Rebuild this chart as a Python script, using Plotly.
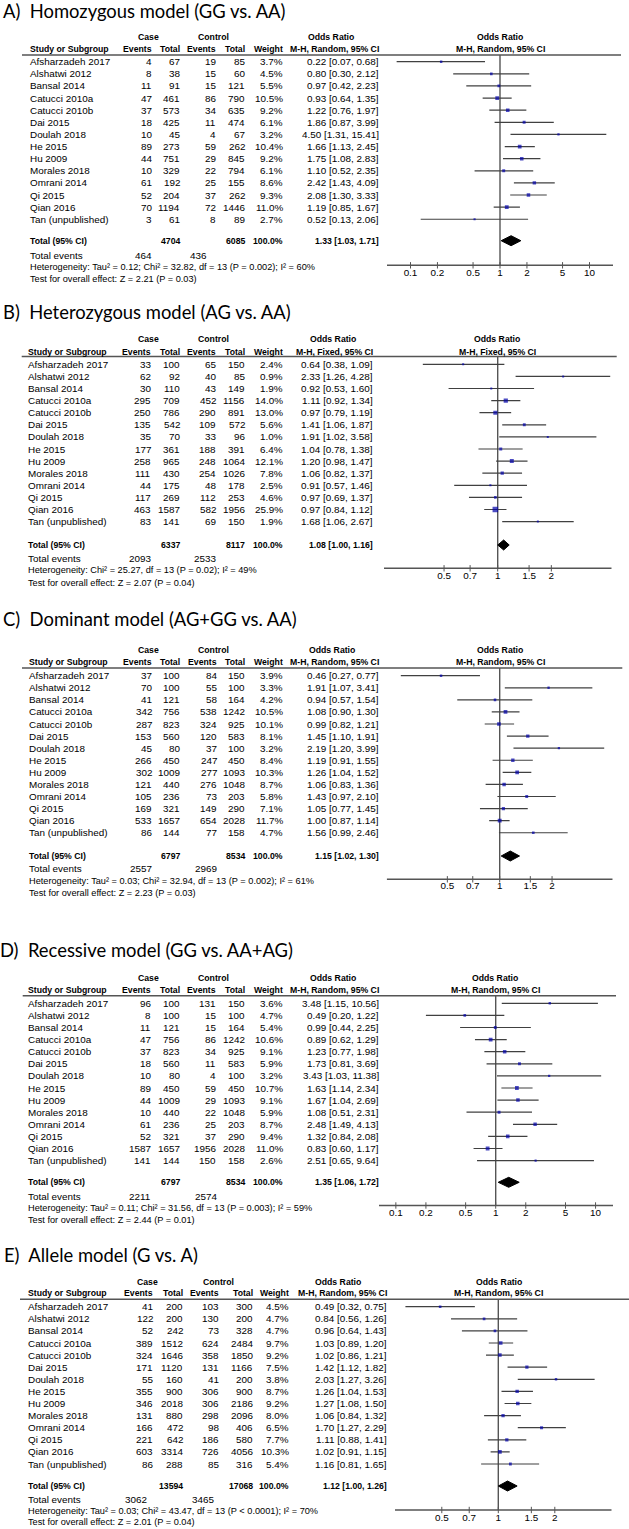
import plotly.graph_objects as go

W, H = 629, 1529

studies = ["Afsharzadeh 2017", "Alshatwi 2012", "Bansal 2014", "Catucci 2010a", "Catucci 2010b",
           "Dai 2015", "Doulah 2018", "He 2015", "Hu 2009", "Morales 2018", "Omrani 2014",
           "Qi 2015", "Qian 2016", "Tan (unpublished)"]

# ---- Panel A: Homozygous model (GG vs. AA)
a_case_ev = [4, 8, 11, 47, 37, 18, 10, 89, 44, 10, 61, 52, 70, 3]
a_case_tot = [67, 38, 91, 461, 573, 425, 45, 273, 751, 329, 192, 204, 1194, 61]
a_ctrl_ev = [19, 15, 15, 86, 34, 11, 4, 59, 29, 22, 25, 37, 72, 8]
a_ctrl_tot = [85, 60, 121, 790, 635, 474, 67, 262, 845, 794, 155, 262, 1446, 89]
a_weight = [3.7, 4.5, 5.5, 10.5, 9.2, 6.1, 3.2, 10.4, 9.2, 6.1, 8.6, 9.3, 11.0, 2.7]
a_or = [0.22, 0.80, 0.97, 0.93, 1.22, 1.86, 4.50, 1.66, 1.75, 1.10, 2.42, 2.08, 1.19, 0.52]
a_lo = [0.07, 0.30, 0.42, 0.64, 0.76, 0.87, 1.31, 1.13, 1.08, 0.52, 1.43, 1.30, 0.85, 0.13]
a_hi = [0.68, 2.12, 2.23, 1.35, 1.97, 3.99, 15.41, 2.45, 2.83, 2.35, 4.09, 3.33, 1.67, 2.06]
a_totals = [4704, 6085]
a_events = [464, 436]
a_overall = [1.33, 1.03, 1.71]

# ---- Panel B: Heterozygous model (AG vs. AA)
b_case_ev = [33, 62, 30, 295, 250, 135, 35, 177, 258, 111, 44, 117, 463, 83]
b_case_tot = [100, 92, 110, 709, 786, 542, 70, 361, 965, 430, 175, 269, 1587, 141]
b_ctrl_ev = [65, 40, 43, 452, 290, 109, 33, 188, 248, 254, 48, 112, 582, 69]
b_ctrl_tot = [150, 85, 149, 1156, 891, 572, 96, 391, 1064, 1026, 178, 253, 1956, 150]
b_weight = [2.4, 0.9, 1.9, 14.0, 13.0, 5.6, 1.0, 6.4, 12.1, 7.8, 2.5, 4.6, 25.9, 1.9]
b_or = [0.64, 2.33, 0.92, 1.11, 0.97, 1.41, 1.91, 1.04, 1.20, 1.06, 0.91, 0.97, 0.97, 1.68]
b_lo = [0.38, 1.26, 0.53, 0.92, 0.79, 1.06, 1.02, 0.78, 0.98, 0.82, 0.57, 0.69, 0.84, 1.06]
b_hi = [1.09, 4.28, 1.60, 1.34, 1.19, 1.87, 3.58, 1.38, 1.47, 1.37, 1.46, 1.37, 1.12, 2.67]
b_totals = [6337, 8117]
b_events = [2093, 2533]
b_overall = [1.08, 1.00, 1.16]

# ---- Panel C: Dominant model (AG+GG vs. AA)
c_case_ev = [37, 70, 41, 342, 287, 153, 45, 266, 302, 121, 105, 169, 533, 86]
c_case_tot = [100, 100, 121, 756, 823, 560, 80, 450, 1009, 440, 236, 321, 1657, 144]
c_ctrl_ev = [84, 55, 58, 538, 324, 120, 37, 247, 277, 276, 73, 149, 654, 77]
c_ctrl_tot = [150, 100, 164, 1242, 925, 583, 100, 450, 1093, 1048, 203, 290, 2028, 158]
c_weight = [3.9, 3.3, 4.2, 10.5, 10.1, 8.1, 3.2, 8.4, 10.3, 8.7, 5.8, 7.1, 11.7, 4.7]
c_or = [0.46, 1.91, 0.94, 1.08, 0.99, 1.45, 2.19, 1.19, 1.26, 1.06, 1.43, 1.05, 1.00, 1.56]
c_lo = [0.27, 1.07, 0.57, 0.90, 0.82, 1.10, 1.20, 0.91, 1.04, 0.83, 0.97, 0.77, 0.87, 0.99]
c_hi = [0.77, 3.41, 1.54, 1.30, 1.21, 1.91, 3.99, 1.55, 1.52, 1.36, 2.10, 1.45, 1.14, 2.46]
c_totals = [6797, 8534]
c_events = [2557, 2969]
c_overall = [1.15, 1.02, 1.30]

# ---- Panel D: Recessive model (GG vs. AA+AG)
d_case_ev = [96, 8, 11, 47, 37, 18, 10, 89, 44, 10, 61, 52, 1587, 141]
d_case_tot = [100, 100, 121, 756, 823, 560, 80, 450, 1009, 440, 236, 321, 1657, 144]
d_ctrl_ev = [131, 15, 15, 86, 34, 11, 4, 59, 29, 22, 25, 37, 1956, 150]
d_ctrl_tot = [150, 100, 164, 1242, 925, 583, 100, 450, 1093, 1048, 203, 290, 2028, 158]
d_weight = [3.6, 4.7, 5.4, 10.6, 9.1, 5.9, 3.2, 10.7, 9.1, 5.9, 8.7, 9.4, 11.0, 2.6]
d_or = [3.48, 0.49, 0.99, 0.89, 1.23, 1.73, 3.43, 1.63, 1.67, 1.08, 2.48, 1.32, 0.83, 2.51]
d_lo = [1.15, 0.20, 0.44, 0.62, 0.77, 0.81, 1.03, 1.14, 1.04, 0.51, 1.49, 0.84, 0.60, 0.65]
d_hi = [10.56, 1.22, 2.25, 1.29, 1.98, 3.69, 11.38, 2.34, 2.69, 2.31, 4.13, 2.08, 1.17, 9.64]
d_totals = [6797, 8534]
d_events = [2211, 2574]
d_overall = [1.35, 1.06, 1.72]

# ---- Panel E: Allele model (G vs. A)
e_case_ev = [41, 122, 52, 389, 324, 171, 55, 355, 346, 131, 166, 221, 603, 86]
e_case_tot = [200, 200, 242, 1512, 1646, 1120, 160, 900, 2018, 880, 472, 642, 3314, 288]
e_ctrl_ev = [103, 130, 73, 624, 358, 131, 41, 306, 306, 298, 98, 186, 726, 85]
e_ctrl_tot = [300, 200, 328, 2484, 1850, 1166, 200, 900, 2186, 2096, 406, 580, 4056, 316]
e_weight = [4.5, 4.7, 4.7, 9.7, 9.2, 7.5, 3.8, 8.7, 9.2, 8.0, 6.5, 7.7, 10.3, 5.4]
e_or = [0.49, 0.84, 0.96, 1.03, 1.02, 1.42, 2.03, 1.26, 1.27, 1.06, 1.70, 1.11, 1.02, 1.16]
e_lo = [0.32, 0.56, 0.64, 0.89, 0.86, 1.12, 1.27, 1.04, 1.08, 0.84, 1.27, 0.88, 0.91, 0.81]
e_hi = [0.75, 1.26, 1.43, 1.20, 1.21, 1.82, 3.26, 1.53, 1.50, 1.32, 2.29, 1.41, 1.15, 1.65]
e_totals = [13594, 17068]
e_events = [3062, 3465]
e_overall = [1.12, 1.00, 1.26]

ticks_wide = [0.1, 0.2, 0.5, 1, 2, 5, 10]
ticks_narrow = [0.5, 0.7, 1, 1.5, 2]

titles = ["A)\u00a0 Homozygous model (GG vs. AA)",
          "B)\u00a0 Heterozygous model (AG vs. AA)",
          "C)\u00a0 Dominant model (AG+GG vs. AA)",
          "D)\u00a0 Recessive model (GG vs. AA+AG)",
          "E)\u00a0 Allele model (G vs. A)"]
methods = ["M-H, Random, 95% CI", "M-H, Fixed, 95% CI", "M-H, Random, 95% CI",
           "M-H, Random, 95% CI", "M-H, Random, 95% CI"]
het_texts = [
    "Heterogeneity: Tau² = 0.12; Chi² = 32.82, df = 13 (P = 0.002); I² = 60%",
    "Heterogeneity: Chi² = 25.27, df = 13 (P = 0.02); I² = 49%",
    "Heterogeneity: Tau² = 0.03; Chi² = 32.94, df = 13 (P = 0.002); I² = 61%",
    "Heterogeneity: Tau² = 0.11; Chi² = 31.56, df = 13 (P = 0.003); I² = 59%",
    "Heterogeneity: Tau² = 0.03; Chi² = 43.47, df = 13 (P < 0.0001); I² = 70%",
]
test_texts = [
    "Test for overall effect: Z = 2.21 (P = 0.03)",
    "Test for overall effect: Z = 2.07 (P = 0.04)",
    "Test for overall effect: Z = 2.23 (P = 0.03)",
    "Test for overall effect: Z = 2.44 (P = 0.01)",
    "Test for overall effect: Z = 2.01 (P = 0.04)",
]

data = [
    (a_case_ev, a_case_tot, a_ctrl_ev, a_ctrl_tot, a_weight, a_or, a_lo, a_hi, a_totals, a_events, a_overall, ticks_wide),
    (b_case_ev, b_case_tot, b_ctrl_ev, b_ctrl_tot, b_weight, b_or, b_lo, b_hi, b_totals, b_events, b_overall, ticks_narrow),
    (c_case_ev, c_case_tot, c_ctrl_ev, c_ctrl_tot, c_weight, c_or, c_lo, c_hi, c_totals, c_events, c_overall, ticks_narrow),
    (d_case_ev, d_case_tot, d_ctrl_ev, d_ctrl_tot, d_weight, d_or, d_lo, d_hi, d_totals, d_events, d_overall, ticks_wide),
    (e_case_ev, e_case_tot, e_ctrl_ev, e_ctrl_tot, e_weight, e_or, e_lo, e_hi, e_totals, e_events, e_overall, ticks_narrow),
]

# ---- geometry (pixels) for each panel
geo = [
    dict(tx=3, ty=11, h1=36.7, h2=49.3, ly=55, r0=61.7, st=12.12, tot=240.7, tev=255.3, het=267.3, test=278.7,
         ay=265.3, tly=273.3, x1=500, dec=89.5, xl=387, xr=613, lx0=22, lx1=621,
         cols=[30, 152, 180, 216, 245, 282.7, 379.3], tevx=[151.7, 207], hc=[148, 213.7, 331.3], fc=500),
    dict(tx=3, ty=312, h1=339.3, h2=351.7, ly=356.5, r0=364.3, st=12.1, tot=545, tev=558.3, het=570.3, test=582.7,
         ay=568.3, tly=576.7, x1=497.7, dec=178.2, xl=384, xr=611.7, lx0=21.7, lx1=616.7,
         cols=[28.3, 151, 180, 216, 245, 282.7, 373.3], tevx=[151, 216], hc=[148, 213.7, 333.3], fc=497),
    dict(tx=3, ty=618.5, h1=650, h2=662.3, ly=668, r0=675.7, st=12.08, tot=856, tev=868.3, het=881, test=893.3,
         ay=879.3, tly=886.5, x1=499.7, dec=173.9, xl=386.7, xr=612.7, lx0=22, lx1=622.3,
         cols=[29.3, 152, 180, 216.7, 245, 282.7, 379.3], tevx=[151.7, 216.7], hc=[148, 213.3, 332], fc=500),
    dict(tx=0, ty=950, h1=977.7, h2=990, ly=995.7, r0=1003.3, st=12.1, tot=1182.3, tev=1196, het=1208.3, test=1220.3,
         ay=1205.5, tly=1214, x1=495.7, dec=99.85, xl=379, xr=613, lx0=22.7, lx1=616,
         cols=[28.3, 151, 180, 216, 245, 282.7, 379.3], tevx=[151, 216.7], hc=[148.5, 213.7, 332.5], fc=495.3),
    dict(tx=4, ty=1255, h1=1281.7, h2=1293.3, ly=1299.3, r0=1306.7, st=12.1, tot=1486, tev=1499.3, het=1511, test=1522.3,
         ay=1510, tly=1518.3, x1=498.3, dec=187.7, xl=395, xr=611.7, lx0=20, lx1=629,
         cols=[28.3, 152.7, 182.7, 219.3, 253.3, 289.3, 386.7], tevx=[146.7, 214], hc=[147.3, 218.3, 338], fc=498.8),
]

TF = "Liberation Sans, Arial, sans-serif"
FS = 9.9
FSB = 8.7
FSN = 9.2   # footnote lines
TXT = "#000000"
LINE = "#555555"
BLUE = "#0000aa"

annotations = []
shapes = []
fig = go.Figure()

def ann(x, y, text, anchor="right", bold=False, size=None, family=TF):
    if size is None:
        size = FSB if bold else FS
    annotations.append(dict(
        x=x, y=y, xref="x", yref="y", text=(f"<b>{text}</b>" if bold else text),
        showarrow=False, xanchor=anchor, yanchor="middle", borderpad=0, borderwidth=0,
        font=dict(family=family, size=size, color=TXT)))

# invisible trace on overlay axes
fig.add_trace(go.Scatter(x=[0, W], y=[0, H], mode="markers", marker=dict(opacity=0), hoverinfo="skip",
                         showlegend=False, xaxis="x", yaxis="y"))

layout_axes = {}
for p, (d, g) in enumerate(zip(data, geo)):
    case_ev, case_tot, ctrl_ev, ctrl_tot, weight, orv, lo, hi, totals, events, overall, ticks = d
    cols = g["cols"]
    # title
    ann(g["tx"], g["ty"], titles[p], anchor="left", size=18.4, family="Lato, Carlito, sans-serif")
    # headers
    ann(g["hc"][0], g["h1"], "Case", anchor="center", bold=True)
    ann(g["hc"][1], g["h1"], "Control", anchor="center", bold=True)
    ann(g["hc"][2], g["h1"], "Odds Ratio", anchor="center", bold=True)
    ann(g["fc"], g["h1"], "Odds Ratio", anchor="center", bold=True)
    ann(cols[0], g["h2"], "Study or Subgroup", anchor="left", bold=True)
    for cx, lab in zip(cols[1:6], ["Events", "Total", "Events", "Total", "Weight"]):
        ann(cx, g["h2"], lab, bold=True)
    ann(cols[6], g["h2"], methods[p], bold=True)
    ann(g["fc"], g["h2"], methods[p], anchor="center", bold=True)
    shapes.append(dict(type="line", xref="x", yref="y", x0=g["lx0"], x1=g["lx1"], y0=g["ly"], y1=g["ly"],
                       line=dict(color=LINE, width=1.5)))
    # study rows
    for i, s in enumerate(studies):
        y = g["r0"] + i * g["st"]
        ann(cols[0], y, s, anchor="left")
        ann(cols[1], y, str(case_ev[i]))
        ann(cols[2], y, str(case_tot[i]))
        ann(cols[3], y, str(ctrl_ev[i]))
        ann(cols[4], y, str(ctrl_tot[i]))
        ann(cols[5], y, f"{weight[i]:.1f}%")
        ann(cols[6], y, f"{orv[i]:.2f} [{lo[i]:.2f}, {hi[i]:.2f}]")
    # totals
    ann(cols[0], g["tot"], "Total (95% CI)", anchor="left", bold=True)
    ann(cols[2], g["tot"], str(totals[0]), bold=True)
    ann(cols[4], g["tot"], str(totals[1]), bold=True)
    ann(cols[5], g["tot"], "100.0%", bold=True)
    ann(cols[6], g["tot"], f"{overall[0]:.2f} [{overall[1]:.2f}, {overall[2]:.2f}]", bold=True)
    ann(cols[0], g["tev"], "Total events", anchor="left")
    ann(g["tevx"][0], g["tev"], str(events[0]))
    ann(g["tevx"][1], g["tev"], str(events[1]))
    ann(cols[0], g["het"], het_texts[p], anchor="left", size=FSN)
    ann(cols[0], g["test"], test_texts[p], anchor="left", size=FSN)

    # ---- forest subplot (log x, y in row units)
    k = p + 2
    xa, ya = f"x{k}", f"y{k}"
    st = g["st"]
    top_row = (g["ly"] - g["r0"]) / st
    ax_row = (g["ay"] - g["r0"]) / st
    bot_row = (g["ay"] + 14 - g["r0"]) / st
    tot_row = (g["tot"] - g["r0"]) / st
    lab_row = (g["tly"] - g["r0"]) / st
    lx_lo = (g["xl"] - g["x1"]) / g["dec"]
    lx_hi = (g["xr"] - g["x1"]) / g["dec"]
    layout_axes[f"xaxis{k}"] = dict(
        type="log", domain=[g["xl"] / W, g["xr"] / W], range=[lx_lo, lx_hi],
        anchor=ya, visible=False, fixedrange=True)
    layout_axes[f"yaxis{k}"] = dict(
        domain=[(H - g["ay"] - 14) / H, (H - g["ly"]) / H], range=[bot_row, top_row],
        anchor=xa, visible=False, fixedrange=True)
    # axis line
    fig.add_trace(go.Scatter(x=[10 ** lx_lo, 10 ** lx_hi], y=[ax_row, ax_row], mode="lines",
                             line=dict(color=LINE, width=1.4), hoverinfo="skip", showlegend=False,
                             xaxis=xa, yaxis=ya))
    # crossing tick marks
    tx_, ty_ = [], []
    for t in ticks:
        tx_ += [t, t, None]
        ty_ += [ax_row - 3.2 / st, ax_row + 3.2 / st, None]
    fig.add_trace(go.Scatter(x=tx_, y=ty_, mode="lines", line=dict(color=LINE, width=1),
                             hoverinfo="skip", showlegend=False, xaxis=xa, yaxis=ya))
    # tick labels
    fig.add_trace(go.Scatter(x=ticks, y=[lab_row] * len(ticks), mode="text",
                             text=[f"{t:g}" for t in ticks], textposition="middle center",
                             textfont=dict(family=TF, size=FS, color=TXT), cliponaxis=False,
                             hoverinfo="skip", showlegend=False, xaxis=xa, yaxis=ya))
    # vertical line of no effect
    fig.add_trace(go.Scatter(x=[1, 1], y=[top_row, ax_row], mode="lines",
                             line=dict(color=LINE, width=1.4), hoverinfo="skip", showlegend=False,
                             xaxis=xa, yaxis=ya))
    # CI lines
    cx, cy = [], []
    for i in range(len(studies)):
        cx += [lo[i], hi[i], None]
        cy += [i, i, None]
    fig.add_trace(go.Scatter(x=cx, y=cy, mode="lines", line=dict(color="#404040", width=1.2),
                             hoverinfo="skip", showlegend=False, xaxis=xa, yaxis=ya))
    # squares (area proportional to weight)
    fig.add_trace(go.Scatter(x=orv, y=list(range(len(studies))), mode="markers",
                             marker=dict(symbol="square", color=BLUE,
                                         size=[max(2.0, 1.0 * w ** 0.5 + 0.5) for w in weight],
                                         line=dict(width=0)),
                             hoverinfo="skip", showlegend=False, xaxis=xa, yaxis=ya))
    # diamond
    dh = 5.0 / st
    fig.add_trace(go.Scatter(x=[overall[1], overall[0], overall[2], overall[0], overall[1]],
                             y=[tot_row, tot_row - dh, tot_row, tot_row + dh, tot_row],
                             mode="lines", fill="toself", fillcolor="black", line=dict(color="black", width=1),
                             hoverinfo="skip", showlegend=False, xaxis=xa, yaxis=ya))

fig.update_layout(
    width=W, height=H, margin=dict(l=0, r=0, t=0, b=0),
    paper_bgcolor="white", plot_bgcolor="rgba(0,0,0,0)", showlegend=False,
    xaxis=dict(range=[0, W], domain=[0, 1], visible=False, fixedrange=True),
    yaxis=dict(range=[H, 0], domain=[0, 1], visible=False, fixedrange=True),
    annotations=annotations, shapes=shapes, **layout_axes)

fig.write_html("out.html", config={"displayModeBar": False},
               post_script="document.body.style.margin='0px';document.body.style.overflow='hidden';")
